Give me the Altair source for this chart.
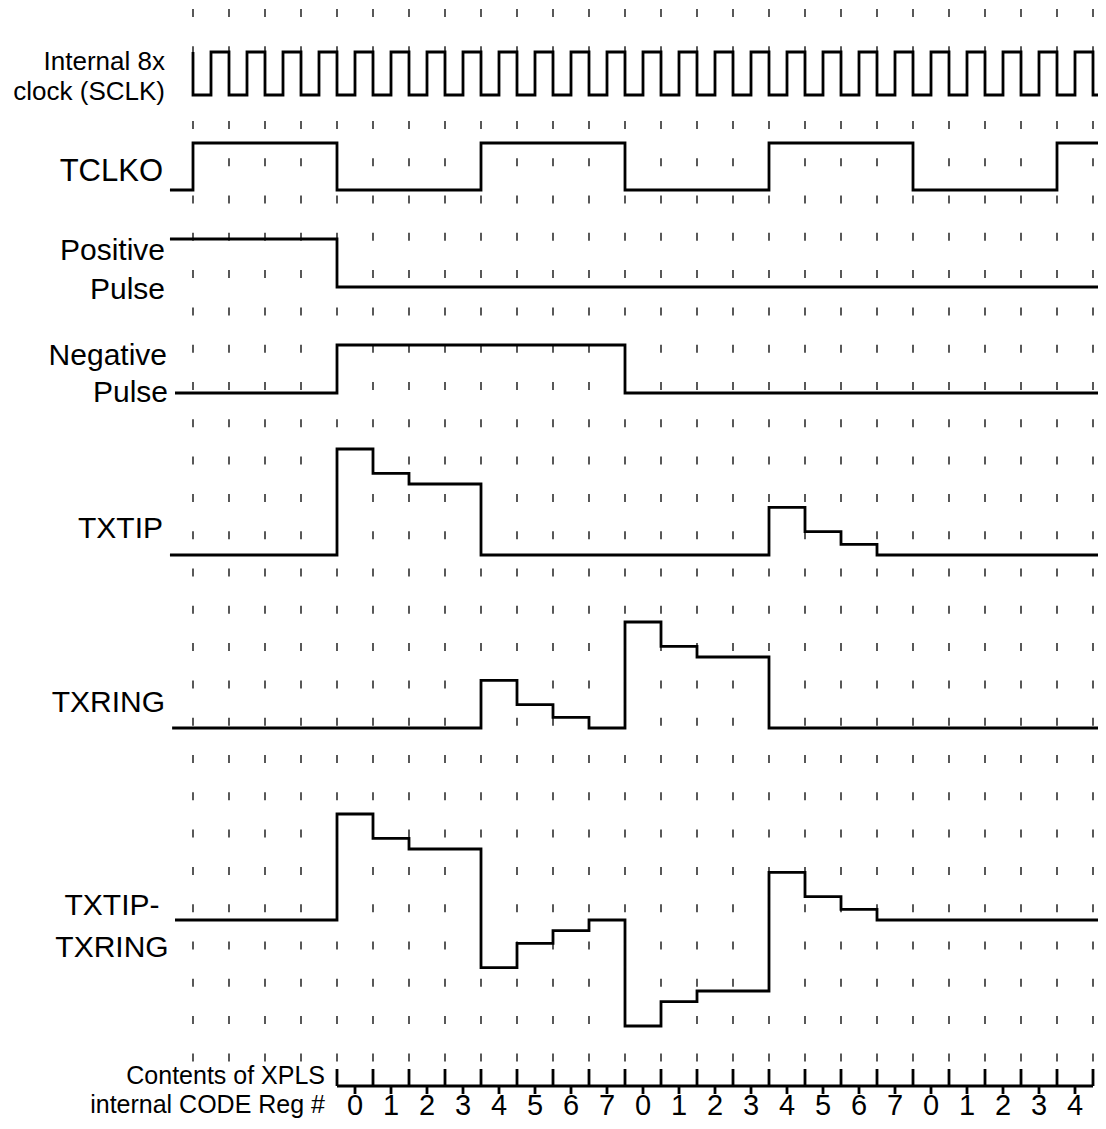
import altair as alt
import pandas as pd

# ---------------- data (time unit = one SCLK period; TCLKO period = 8 units) -------------
GRID_T = list(range(0, 26))

SCLK_T = [0, 0, 0.5, 1, 1.5, 2, 2.5, 3, 3.5, 4, 4.5, 5, 5.5, 6, 6.5, 7, 7.5, 8, 8.5, 9,
          9.5, 10, 10.5, 11, 11.5, 12, 12.5, 13, 13.5, 14, 14.5, 15, 15.5, 16, 16.5, 17,
          17.5, 18, 18.5, 19, 19.5, 20, 20.5, 21, 21.5, 22, 22.5, 23, 23.5, 24, 24.5, 25]
SCLK_V = [1, 0, 1, 0, 1, 0, 1, 0, 1, 0, 1, 0, 1, 0, 1, 0, 1, 0, 1, 0,
          1, 0, 1, 0, 1, 0, 1, 0, 1, 0, 1, 0, 1, 0, 1, 0,
          1, 0, 1, 0, 1, 0, 1, 0, 1, 0, 1, 0, 1, 0, 1, 0]

TCLKO_T = [-0.64, 0, 4, 8, 12, 16, 20, 24]
TCLKO_V = [0, 1, 0, 1, 0, 1, 0, 1]

POS_T = [-0.64, 4]
POS_V = [1, 0]

NEG_T = [-0.5, 4, 12]
NEG_V = [0, 1, 0]

TXTIP_T = [-0.64, 4, 5, 6, 8, 16, 17, 18, 19]
TXTIP_V = [0, 1.0, 0.77, 0.67, 0, 0.45, 0.22, 0.10, 0]

TXRING_T = [-0.58, 8, 9, 10, 11, 12, 13, 14, 16]
TXRING_V = [0, 0.45, 0.22, 0.10, 0, 1.0, 0.77, 0.67, 0]

DIFF_START = -0.5

REG_TICKS = list(range(4, 26))
REG_CODES = [0, 1, 2, 3, 4, 5, 6, 7, 0, 1, 2, 3, 4, 5, 6, 7, 0, 1, 2, 3, 4]
REG_CODE_T = [4.5 + i for i in range(len(REG_CODES))]

LABELS = [
    ("Internal 8x", "sclk1"), ("clock (SCLK)", "sclk2"), ("TCLKO", "tclko"),
    ("Positive", "pos1"), ("Pulse", "pos2"), ("Negative", "neg1"), ("Pulse", "neg2"),
    ("TXTIP", "tip"), ("TXRING", "ring"), ("TXTIP-", "d1"), ("TXRING", "d2"),
    ("Contents of XPLS", "reg1"), ("internal CODE Reg #", "reg2"),
]

# ---------------- layout ----------------
W, H = 1090, 1113
X0, UNIT = 193, 36          # page x of t=0, px per time unit
T_END = (8 + W - X0) / UNIT
xs = alt.Scale(domain=[(8 - X0) / UNIT, T_END], nice=False, zero=False)
ys = alt.Scale(domain=[8, 8 + H], nice=False, zero=False, reverse=True)

def px2t(px):
    return (px - X0) / UNIT

ROWS = {  # baseline (page y), amplitude px
    "SCLK": (95, 43), "TCLKO": (190, 47), "POS": (287, 48), "NEG": (393, 48),
    "TXTIP": (555, 106), "TXRING": (728, 106), "DIFF": (920, 106),
}

def level_at(ts, vs, t):
    v = vs[0]
    for ti, vi in zip(ts, vs):
        if ti <= t:
            v = vi
    return v

diff_t = sorted(set([DIFF_START] + [t for t in TXTIP_T + TXRING_T if t > DIFF_START]))
diff_v = [level_at(TXTIP_T, TXTIP_V, t) - level_at(TXRING_T, TXRING_V, t) for t in diff_t]

signals = {
    "SCLK": (SCLK_T, SCLK_V), "TCLKO": (TCLKO_T, TCLKO_V), "POS": (POS_T, POS_V),
    "NEG": (NEG_T, NEG_V), "TXTIP": (TXTIP_T, TXTIP_V), "TXRING": (TXRING_T, TXRING_V),
    "DIFF": (diff_t, diff_v),
}
rows = []
for name, (ts, vs) in signals.items():
    base, amp = ROWS[name]
    pts = list(zip(ts, vs)) + [(T_END, vs[-1])]
    for i, (t, v) in enumerate(pts):
        rows.append({"sig": name, "i": i, "t": t, "y": base - amp * v})
wave = pd.DataFrame(rows)

grid = pd.DataFrame({"t": GRID_T, "y": 9, "y2": 1061.5})

REG_Y = 1086
ruler_base = pd.DataFrame({"t": [REG_TICKS[0]], "t2": [REG_TICKS[-1]], "y": [REG_Y]})
ruler_up = pd.DataFrame({"t": REG_TICKS, "y": REG_Y - 17, "y2": REG_Y})
ruler_dn = pd.DataFrame({"t": REG_CODE_T, "y": REG_Y, "y2": REG_Y + 8})
codes = pd.DataFrame({"t": REG_CODE_T, "txt": [str(c) for c in REG_CODES], "y": 1115})

LAB_POS = {  # key: (page x, page baseline y, size, align)
    "sclk1": (165, 70, 26, "right"), "sclk2": (165, 100, 26, "right"),
    "tclko": (163, 181, 31, "right"),
    "pos1": (165, 260, 30, "right"), "pos2": (165, 299, 30, "right"),
    "neg1": (167, 365, 30, "right"), "neg2": (168, 402, 30, "right"),
    "tip": (163, 538, 30, "right"), "ring": (165, 712, 30, "right"),
    "d1": (112, 915, 30, "center"), "d2": (112, 957, 30, "center"),
    "reg1": (325, 1084, 25, "right"), "reg2": (325, 1113, 25, "right"),
}
lab_rows = []
for txt, key in LABELS:
    x, y, s, a = LAB_POS[key]
    lab_rows.append({"txt": txt, "t": px2t(x), "y": y, "fs": s, "al": a})
labs = pd.DataFrame(lab_rows)

FONT = "Liberation Sans"
X = alt.X("t:Q", scale=xs, axis=None)
Y = alt.Y("y:Q", scale=ys, axis=None)

grid_layer = alt.Chart(grid).mark_rule(color="black", strokeWidth=1.3, strokeDash=[8, 29.3]).encode(
    x=X, y=Y, y2="y2:Q")

wave_layer = alt.Chart(wave).mark_line(interpolate="step-after", color="black",
                                       strokeWidth=2.8).encode(
    x=X, y=Y, detail="sig:N", order="i:Q")

rb = alt.Chart(ruler_base).mark_rule(color="black", strokeWidth=2.8).encode(x=X, x2="t2:Q", y=Y)
ru = alt.Chart(ruler_up).mark_rule(color="black", strokeWidth=2.8).encode(x=X, y=Y, y2="y2:Q")
rd = alt.Chart(ruler_dn).mark_rule(color="black", strokeWidth=2.8).encode(x=X, y=Y, y2="y2:Q")
code_layer = alt.Chart(codes).mark_text(font=FONT, fontSize=29, align="center",
                                        baseline="alphabetic", color="black").encode(
    x=X, y=Y, text="txt:N")

text_layers = []
for al in ["right", "center"]:
    sub = labs[labs["al"] == al]
    text_layers.append(
        alt.Chart(sub).mark_text(font=FONT, align=al, baseline="alphabetic", color="black").encode(
            x=X, y=Y, text="txt:N", size=alt.Size("fs:Q", scale=None)))

chart = alt.layer(grid_layer, wave_layer, rb, ru, rd, code_layer, *text_layers).properties(
    width=W, height=H, padding=0, autosize=alt.AutoSizeParams(type="none")
).configure_view(stroke=None)

chart.save("out.html", embed_options={"renderer": "svg", "actions": False})
